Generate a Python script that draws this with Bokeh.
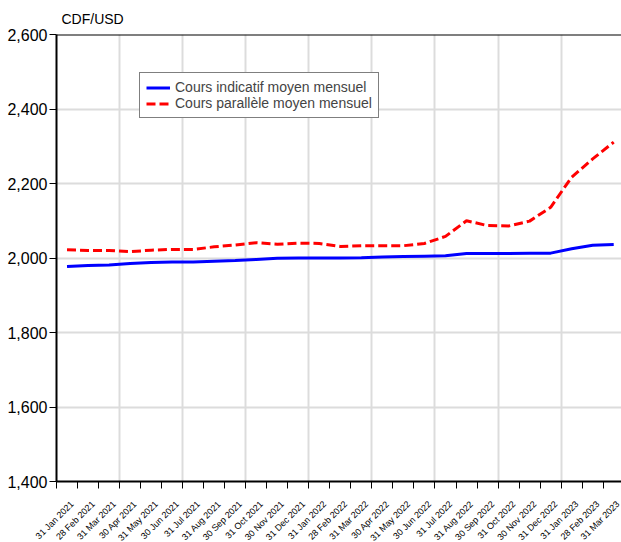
from bokeh.plotting import figure
from bokeh.models import (FixedTicker, NumeralTickFormatter, Legend, LegendItem,
                          Span, Range1d)
from bokeh.embed import file_html
from bokeh.resources import INLINE

months = ["31 Jan 2021", "28 Feb 2021", "31 Mar 2021", "30 Apr 2021", "31 May 2021",
          "30 Jun 2021", "31 Jul 2021", "31 Aug 2021", "30 Sep 2021", "31 Oct 2021",
          "30 Nov 2021", "31 Dec 2021", "31 Jan 2022", "28 Feb 2022", "31 Mar 2022",
          "30 Apr 2022", "31 May 2022", "30 Jun 2022", "31 Jul 2022", "31 Aug 2022",
          "30 Sep 2022", "31 Oct 2022", "30 Nov 2022", "31 Dec 2022", "31 Jan 2023",
          "28 Feb 2023", "31 Mar 2023"]

official = [1977, 1980, 1981, 1985, 1988, 1989, 1989, 1991, 1993, 1996,
            1999, 2000, 2000, 2000, 2001, 2003, 2004, 2005, 2006, 2012,
            2012, 2012, 2013, 2013, 2025, 2034, 2036]

parallel = [2022, 2020, 2020, 2017, 2021, 2023, 2023, 2030, 2035, 2041,
            2037, 2040, 2039, 2031, 2033, 2033, 2033, 2039, 2058, 2100,
            2087, 2086, 2099, 2136, 2217, 2266, 2311]

y_ticks = [1400, 1600, 1800, 2000, 2200, 2400, 2600]

x = list(range(len(months)))
FONT = "Liberation Sans"

p = figure(frame_width=565, frame_height=447, output_backend="svg", toolbar_location=None,
           x_range=Range1d(-0.5, 26.37), y_range=Range1d(1400, 2600),
           min_border_left=56, min_border_right=0, min_border_top=34,
           min_border_bottom=61, title="CDF/USD")
p.outline_line_color = None
p.background_fill_color = "white"
p.border_fill_color = "white"

p.title.align = "left"
p.title.offset = 5
p.title.text_font = FONT
p.title.text_font_size = "14px"
p.title.text_font_style = "normal"
p.title.text_color = "black"
p.title.standoff = 15

r1 = p.line(x, official, line_color="#0000ff", line_width=3)
r2 = p.line(x, parallel, line_color="#ff0000", line_width=3, line_dash="9 4")

# x axis: labels slightly right of the month centre, tick marks at month boundaries
label_pos = [i + 0.25 for i in x]
xa = p.xaxis[0]
xa.ticker = FixedTicker(ticks=label_pos, minor_ticks=[i - 0.5 for i in range(len(months) + 1)])
xa.major_label_overrides = {pos: m for pos, m in zip(label_pos, months)}
xa.major_label_orientation = 0.785398
xa.major_tick_line_color = None
xa.major_tick_out = 0
xa.major_tick_in = 0
xa.minor_tick_line_color = "black"
xa.minor_tick_line_width = 1
xa.minor_tick_out = 7
xa.minor_tick_in = 0
xa.axis_line_width = 2
xa.axis_line_color = "black"
xa.major_label_text_font = FONT
xa.major_label_text_font_size = "9px"
xa.major_label_text_color = "black"
xa.major_label_standoff = 14

# y axis
ya = p.yaxis[0]
ya.ticker = FixedTicker(ticks=y_ticks)
ya.formatter = NumeralTickFormatter(format="0,0")
ya.minor_tick_line_color = None
ya.major_tick_out = 7
ya.major_tick_in = 0
ya.major_tick_line_width = 1
ya.axis_line_width = 2
ya.axis_line_color = "black"
ya.major_label_text_font = FONT
ya.major_label_text_font_size = "16px"
ya.major_label_text_color = "black"
ya.major_label_standoff = 2

# top border line
p.add_layout(Span(location=2600, dimension="width", line_color="black", line_width=2))

# grids
p.xgrid.ticker = FixedTicker(ticks=[2.5, 5.5, 8.5, 11.5, 14.5, 17.5, 20.5, 23.5])
p.ygrid.ticker = FixedTicker(ticks=y_ticks[1:-1])
p.xgrid.grid_line_color = "#dcdcdc"
p.ygrid.grid_line_color = "#dcdcdc"
p.xgrid.grid_line_width = 2
p.ygrid.grid_line_width = 2

legend = Legend(items=[LegendItem(label="Cours indicatif moyen mensuel", renderers=[r1]),
                       LegendItem(label="Cours parallèle moyen mensuel", renderers=[r2])],
                location=(83, 363))
legend.label_text_font = FONT
legend.label_text_font_size = "14px"
legend.label_height = 11
legend.glyph_height = 11
legend.glyph_width = 24
legend.label_standoff = 5
legend.spacing = 0
legend.padding = 6
legend.margin = 0
legend.border_line_color = "black"
legend.border_line_width = 1
legend.background_fill_alpha = 1
p.add_layout(legend, "center")

open("out.html", "w").write(file_html(p, INLINE))
